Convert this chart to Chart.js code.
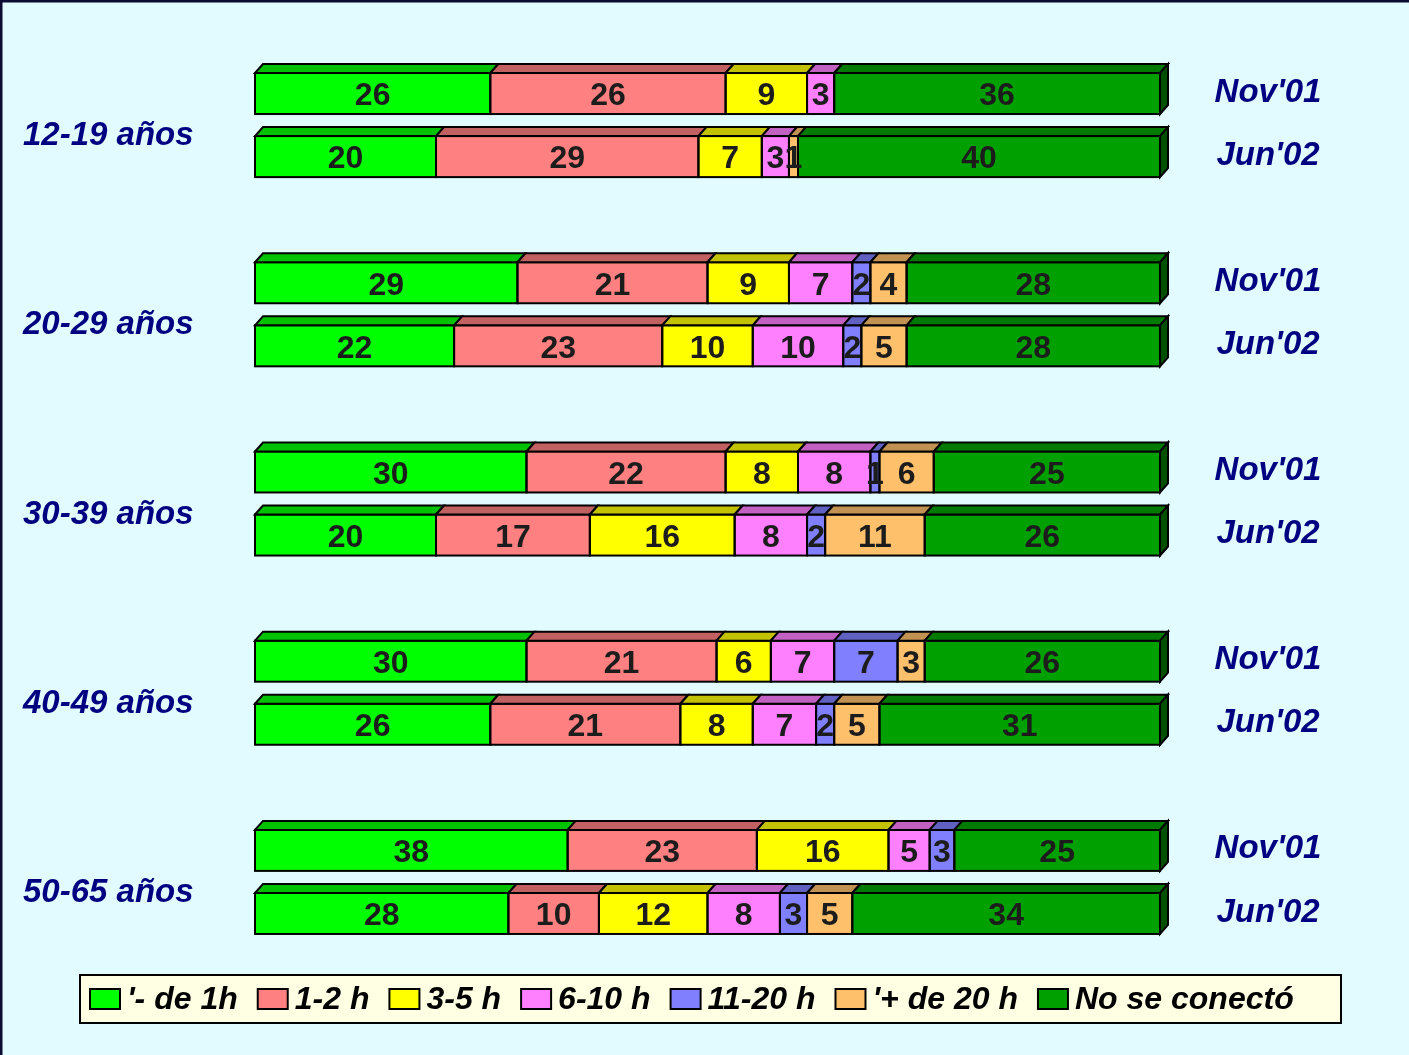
<!DOCTYPE html>
<html>
<head>
<meta charset="utf-8">
<script src="https://cdn.jsdelivr.net/npm/chart.js@4.4.1/dist/chart.umd.min.js"></script>
<style>
html,body{margin:0;padding:0;background:#E1FBFF;}
canvas{display:block;}
</style>
</head>
<body>
<canvas id="c" width="1409" height="1055"></canvas>
<script>
// ---- data ----
const groups = ['12-19 años', '20-29 años', '30-39 años', '40-49 años', '50-65 años'];
const periods = ["Nov'01", "Jun'02"];
const seriesNames = ["'- de 1h", "1-2 h", "3-5 h", "6-10 h", "11-20 h", "'+ de 20 h", "No se conectó"];
// one value per bar: [12-19 Nov, 12-19 Jun, 20-29 Nov, 20-29 Jun, 30-39 Nov, 30-39 Jun, 40-49 Nov, 40-49 Jun, 50-65 Nov, 50-65 Jun]
const menos1h   = [26, 20, 29, 22, 30, 20, 30, 26, 38, 28];
const h1a2      = [26, 29, 21, 23, 22, 17, 21, 21, 23, 10];
const h3a5      = [ 9,  7,  9, 10,  8, 16,  6,  8, 16, 12];
const h6a10     = [ 3,  3,  7, 10,  8,  8,  7,  7,  5,  8];
const h11a20    = [ 0,  0,  2,  2,  1,  2,  7,  2,  3,  3];
const mas20h    = [ 0,  1,  4,  5,  6, 11,  3,  5,  0,  5];
const noConecto = [36, 40, 28, 28, 25, 26, 26, 31, 25, 34];

const series = [menos1h, h1a2, h3a5, h6a10, h11a20, mas20h, noConecto];
const colors = ['#00FF00', '#FF8080', '#FFFF00', '#FF80FF', '#8080FF', '#FFC06C', '#00A000'];

// ---- build slots (two bars per group, a blank slot between groups) ----
const nBars = groups.length * periods.length;
const slotOf = b => Math.floor(b / 2) * 3 + (b % 2);
const barOf = slot => Math.floor(slot / 3) * 2 + (slot % 3);
const nSlots = slotOf(nBars - 1) + 1;
const slotLabels = new Array(nSlots).fill('');
for (let b = 0; b < nBars; b++) slotLabels[slotOf(b)] = groups[Math.floor(b / 2)] + ' ' + periods[b % 2];
const totals = [];
for (let b = 0; b < nBars; b++) totals.push(series.reduce((s, arr) => s + arr[b], 0));

const datasets = series.map((vals, s) => {
  const data = new Array(nSlots).fill(null);
  vals.forEach((v, b) => { data[slotOf(b)] = v / totals[b] * 100; });
  return {
    label: seriesNames[s],
    data,
    rawValues: vals,
    backgroundColor: colors[s],
    borderWidth: 0,
    barThickness: 41
  };
});

// ---- helpers ----
const FONT = '"Liberation Sans", Arial, Helvetica, sans-serif';
const DX = 8, DY = 9;
function shade(hex, f) {
  const n = parseInt(hex.slice(1), 16);
  const r = Math.round(((n >> 16) & 255) * f), g = Math.round(((n >> 8) & 255) * f), b = Math.round((n & 255) * f);
  return 'rgb(' + r + ',' + g + ',' + b + ')';
}

const bgPlugin = {
  id: 'bg',
  beforeDraw(chart) {
    const ctx = chart.ctx;
    ctx.save();
    ctx.fillStyle = '#E1FBFF';
    ctx.fillRect(0, 0, chart.width, chart.height);
    ctx.strokeStyle = '#0B0B33';
    ctx.lineWidth = 3;
    ctx.beginPath();
    ctx.moveTo(1, chart.height);
    ctx.lineTo(1, 1);
    ctx.lineTo(chart.width, 1);
    ctx.stroke();
    ctx.restore();
  }
};

const bars3d = {
  id: 'bars3d',
  afterDatasetsDraw(chart) {
    const ctx = chart.ctx;
    ctx.save();
    ctx.lineWidth = 2;
    ctx.strokeStyle = '#000';
    ctx.lineJoin = 'miter';
    const nd = chart.data.datasets.length;
    const segs = [];
    chart.data.datasets.forEach((ds, di) => {
      const meta = chart.getDatasetMeta(di);
      meta.data.forEach((bar, i) => {
        if (ds.data[i] == null || ds.data[i] === 0) return;
        const p = bar.getProps(['x', 'y', 'base', 'height'], true);
        segs.push({di, i, x0: Math.min(p.base, p.x), x1: Math.max(p.base, p.x), top: p.y - p.height / 2, bot: p.y + p.height / 2, cy: p.y, color: ds.backgroundColor, raw: ds.rawValues});
      });
    });
    // front outlines and top faces
    segs.forEach(s => {
      ctx.strokeRect(s.x0, s.top, s.x1 - s.x0, s.bot - s.top);
      ctx.beginPath();
      ctx.moveTo(s.x0, s.top);
      ctx.lineTo(s.x0 + DX, s.top - DY);
      ctx.lineTo(s.x1 + DX, s.top - DY);
      ctx.lineTo(s.x1, s.top);
      ctx.closePath();
      ctx.fillStyle = shade(s.color, 0.76);
      ctx.fill();
      ctx.stroke();
    });
    // right side face on the last segment
    segs.filter(s => s.di === nd - 1).forEach(s => {
      ctx.beginPath();
      ctx.moveTo(s.x1, s.top);
      ctx.lineTo(s.x1 + DX, s.top - DY);
      ctx.lineTo(s.x1 + DX, s.bot - DY);
      ctx.lineTo(s.x1, s.bot);
      ctx.closePath();
      ctx.fillStyle = shade(s.color, 0.5);
      ctx.fill();
      ctx.stroke();
    });
    // value labels
    ctx.fillStyle = '#1C1C1C';
    ctx.font = 'bold 32px ' + FONT;
    ctx.textAlign = 'center';
    ctx.textBaseline = 'middle';
    segs.forEach(s => {
      const v = s.raw[barOf(s.i)];
      if (!v) return;
      ctx.fillText(String(v), (s.x0 + s.x1) / 2, s.cy + 3);
    });
    ctx.restore();
  },
  afterDraw(chart) {
    const ctx = chart.ctx;
    const ys = chart.scales.y;
    ctx.save();
    ctx.fillStyle = '#000080';
    ctx.font = 'italic bold 33px ' + FONT;
    ctx.textBaseline = 'middle';
    // group labels (left)
    groups.forEach((g, gi) => {
      const y1 = ys.getPixelForValue(slotOf(gi * 2));
      const y2 = ys.getPixelForValue(slotOf(gi * 2 + 1));
      ctx.textAlign = 'left';
      ctx.fillText(g, 23, (y1 + y2) / 2 + 11);
    });
    // period labels (right)
    for (let b = 0; b < nBars; b++) {
      const y = ys.getPixelForValue(slotOf(b));
      ctx.textAlign = 'center';
      ctx.fillText(periods[b % 2], 1268, y - 1);
    }
    // legend
    const lx = 80, ly = 975, lw = 1261, lh = 48;
    ctx.fillStyle = '#FFFFE4';
    ctx.fillRect(lx, ly, lw, lh);
    ctx.lineWidth = 2;
    ctx.strokeStyle = '#000';
    ctx.strokeRect(lx, ly, lw, lh);
    ctx.font = 'italic bold 32px ' + FONT;
    ctx.textAlign = 'left';
    let x = lx + 10;
    const cy = ly + lh / 2;
    chart.data.datasets.forEach(ds => {
      ctx.fillStyle = ds.backgroundColor;
      ctx.fillRect(x, cy - 10, 30, 20);
      ctx.strokeRect(x, cy - 10, 30, 20);
      x += 37;
      ctx.fillStyle = '#000';
      ctx.fillText(ds.label, x, cy + 1);
      x += ctx.measureText(ds.label).width + 20;
    });
    ctx.restore();
  }
};

new Chart(document.getElementById('c'), {
  type: 'bar',
  data: { labels: slotLabels, datasets },
  options: {
    indexAxis: 'y',
    responsive: false,
    animation: false,
    events: [],
    layout: { padding: { left: 255, right: 249, top: 62, bottom: 110 } },
    plugins: { legend: { display: false }, tooltip: { enabled: false } },
    scales: {
      x: { stacked: true, min: 0, max: 100, display: false },
      y: { stacked: true, display: false, offset: true }
    }
  },
  plugins: [bgPlugin, bars3d]
});
</script>
</body>
</html>
